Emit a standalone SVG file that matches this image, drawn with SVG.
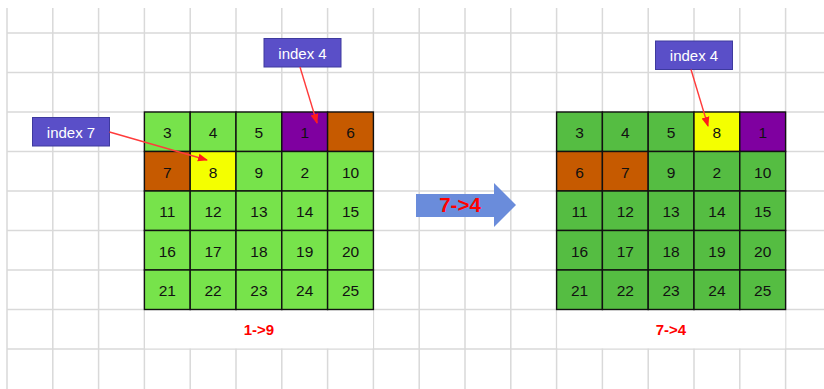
<svg xmlns="http://www.w3.org/2000/svg" width="824" height="389" viewBox="0 0 824 389">
<style>
.bg{stroke:#d9d9d9;stroke-width:1.5;fill:none}
.c{stroke:#111;stroke-width:1.4}
.g1{fill:#77e34b}
.g2{fill:#55bd42}
.pu{fill:#7f00a0}
.or{fill:#c65a00}
.ye{fill:#f4ff00}
.n{font-family:"Liberation Sans",Arial,sans-serif;font-size:15.5px;fill:#111;text-anchor:middle;dominant-baseline:central}
.lb{fill:#5a4fc8;stroke:#3e3a9e;stroke-width:1}
.lt{font-family:"Liberation Sans",Arial,sans-serif;font-size:15px;fill:#fff;text-anchor:middle;dominant-baseline:central}
.rt{font-family:"Liberation Sans",Arial,sans-serif;font-weight:bold;fill:#ff0000;text-anchor:middle}
.ar{stroke:#ff3b3b;stroke-width:1.4;fill:none;marker-end:url(#ah)}
</style>
<defs>
<marker id="ah" markerWidth="10" markerHeight="10" refX="9" refY="5" orient="auto" markerUnits="userSpaceOnUse">
<path d="M0,1 L10,5 L0,9 Z" fill="#ff1a1a"/>
</marker>
</defs>
<rect width="824" height="389" fill="#fff"/>
<g id="background-grid" class="bg">
<path d="M7,8V389M52.8,8V389M98.6,8V389M144.4,8V389M190.2,8V389M236,8V389M281.8,8V389M327.6,8V389M373.4,8V389M419.2,8V389M465,8V389M510.8,8V389M556.6,8V389M602.4,8V389M648.2,8V389M694,8V389M739.8,8V389M785.6,8V389"/>
<path d="M7,33H824M7,72.5H824M7,112H824M7,151.5H824M7,191H824M7,230.5H824M7,270H824M7,309.5H824M7,349H824"/>
</g>
<rect x="145" y="310.3" width="228" height="38" fill="#fff"/>
<rect x="557.3" y="310.3" width="228" height="38" fill="#fff"/>

<g id="left-table">
<rect class="c g1" x="144.4" y="112" width="45.8" height="39.5"/>
<rect class="c g1" x="190.2" y="112" width="45.8" height="39.5"/>
<rect class="c g1" x="236" y="112" width="45.8" height="39.5"/>
<rect class="c pu" x="281.8" y="112" width="45.8" height="39.5"/>
<rect class="c or" x="327.6" y="112" width="45.8" height="39.5"/>
<rect class="c or" x="144.4" y="151.5" width="45.8" height="39.5"/>
<rect class="c ye" x="190.2" y="151.5" width="45.8" height="39.5"/>
<rect class="c g1" x="236" y="151.5" width="45.8" height="39.5"/>
<rect class="c g1" x="281.8" y="151.5" width="45.8" height="39.5"/>
<rect class="c g1" x="327.6" y="151.5" width="45.8" height="39.5"/>
<g class="c g1">
<rect x="144.4" y="191" width="45.8" height="39.5"/><rect x="190.2" y="191" width="45.8" height="39.5"/><rect x="236" y="191" width="45.8" height="39.5"/><rect x="281.8" y="191" width="45.8" height="39.5"/><rect x="327.6" y="191" width="45.8" height="39.5"/>
<rect x="144.4" y="230.5" width="45.8" height="39.5"/><rect x="190.2" y="230.5" width="45.8" height="39.5"/><rect x="236" y="230.5" width="45.8" height="39.5"/><rect x="281.8" y="230.5" width="45.8" height="39.5"/><rect x="327.6" y="230.5" width="45.8" height="39.5"/>
<rect x="144.4" y="270" width="45.8" height="39.5"/><rect x="190.2" y="270" width="45.8" height="39.5"/><rect x="236" y="270" width="45.8" height="39.5"/><rect x="281.8" y="270" width="45.8" height="39.5"/><rect x="327.6" y="270" width="45.8" height="39.5"/>
</g>
<g class="n">
<text x="167.3" y="132.5">3</text><text x="213.1" y="132.5">4</text><text x="258.9" y="132.5">5</text><text x="304.7" y="132.5">1</text><text x="350.5" y="132.5">6</text>
<text x="167.3" y="172">7</text><text x="213.1" y="172">8</text><text x="258.9" y="172">9</text><text x="304.7" y="172">2</text><text x="350.5" y="172">10</text>
<text x="167.3" y="211.5">11</text><text x="213.1" y="211.5">12</text><text x="258.9" y="211.5">13</text><text x="304.7" y="211.5">14</text><text x="350.5" y="211.5">15</text>
<text x="167.3" y="251">16</text><text x="213.1" y="251">17</text><text x="258.9" y="251">18</text><text x="304.7" y="251">19</text><text x="350.5" y="251">20</text>
<text x="167.3" y="290.5">21</text><text x="213.1" y="290.5">22</text><text x="258.9" y="290.5">23</text><text x="304.7" y="290.5">24</text><text x="350.5" y="290.5">25</text>
</g>
<text class="rt" x="259" y="335" font-size="15">1-&gt;9</text>
</g>

<g id="right-table">
<rect class="c g2" x="556.6" y="112" width="45.8" height="39.5"/>
<rect class="c g2" x="602.4" y="112" width="45.8" height="39.5"/>
<rect class="c g2" x="648.2" y="112" width="45.8" height="39.5"/>
<rect class="c ye" x="694" y="112" width="45.8" height="39.5"/>
<rect class="c pu" x="739.8" y="112" width="45.8" height="39.5"/>
<rect class="c or" x="556.6" y="151.5" width="45.8" height="39.5"/>
<rect class="c or" x="602.4" y="151.5" width="45.8" height="39.5"/>
<rect class="c g2" x="648.2" y="151.5" width="45.8" height="39.5"/>
<rect class="c g2" x="694" y="151.5" width="45.8" height="39.5"/>
<rect class="c g2" x="739.8" y="151.5" width="45.8" height="39.5"/>
<g class="c g2">
<rect x="556.6" y="191" width="45.8" height="39.5"/><rect x="602.4" y="191" width="45.8" height="39.5"/><rect x="648.2" y="191" width="45.8" height="39.5"/><rect x="694" y="191" width="45.8" height="39.5"/><rect x="739.8" y="191" width="45.8" height="39.5"/>
<rect x="556.6" y="230.5" width="45.8" height="39.5"/><rect x="602.4" y="230.5" width="45.8" height="39.5"/><rect x="648.2" y="230.5" width="45.8" height="39.5"/><rect x="694" y="230.5" width="45.8" height="39.5"/><rect x="739.8" y="230.5" width="45.8" height="39.5"/>
<rect x="556.6" y="270" width="45.8" height="39.5"/><rect x="602.4" y="270" width="45.8" height="39.5"/><rect x="648.2" y="270" width="45.8" height="39.5"/><rect x="694" y="270" width="45.8" height="39.5"/><rect x="739.8" y="270" width="45.8" height="39.5"/>
</g>
<g class="n">
<text x="579.5" y="132.5">3</text><text x="625.3" y="132.5">4</text><text x="671.1" y="132.5">5</text><text x="716.9" y="132.5">8</text><text x="762.7" y="132.5">1</text>
<text x="579.5" y="172">6</text><text x="625.3" y="172">7</text><text x="671.1" y="172">9</text><text x="716.9" y="172">2</text><text x="762.7" y="172">10</text>
<text x="579.5" y="211.5">11</text><text x="625.3" y="211.5">12</text><text x="671.1" y="211.5">13</text><text x="716.9" y="211.5">14</text><text x="762.7" y="211.5">15</text>
<text x="579.5" y="251">16</text><text x="625.3" y="251">17</text><text x="671.1" y="251">18</text><text x="716.9" y="251">19</text><text x="762.7" y="251">20</text>
<text x="579.5" y="290.5">21</text><text x="625.3" y="290.5">22</text><text x="671.1" y="290.5">23</text><text x="716.9" y="290.5">24</text><text x="762.7" y="290.5">25</text>
</g>
<text class="rt" x="671" y="335" font-size="15">7-&gt;4</text>
</g>

<g id="transition-arrow">
<path d="M416,194 H494 V183 L516,205 L494,227 V217 H416 Z" fill="#6a8cdb"/>
<text class="rt" x="460" y="212" font-size="20.5">7-&gt;4</text>
</g>

<g id="label-index4-left">
<rect class="lb" x="264" y="38.5" width="77" height="28.5"/>
<text class="lt" x="302.5" y="53">index 4</text>
</g>
<g id="label-index7-left">
<rect class="lb" x="32.5" y="117.5" width="77" height="28.5"/>
<text class="lt" x="71" y="132">index 7</text>
</g>
<g id="label-index4-right">
<rect class="lb" x="655.5" y="41" width="77" height="28.5"/>
<text class="lt" x="694" y="55.5">index 4</text>
</g>

<g id="connectors">
<line class="ar" x1="300" y1="67" x2="317" y2="123"/>
<line class="ar" x1="109.5" y1="132" x2="207" y2="160"/>
<line class="ar" x1="691" y1="69.5" x2="708" y2="126"/>
</g>
</svg>
